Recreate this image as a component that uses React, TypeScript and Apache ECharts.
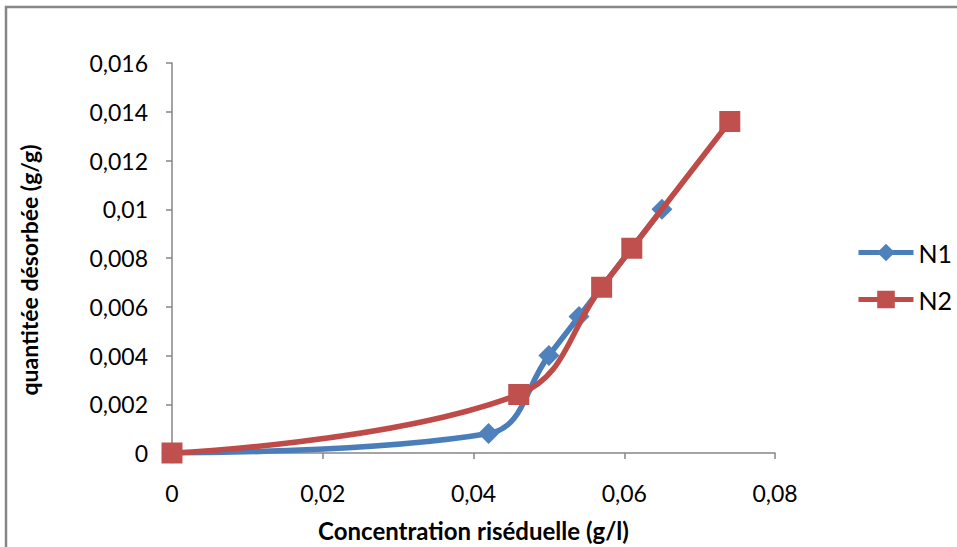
import React, { useEffect, useRef } from "react";
import * as echarts from "echarts";

const n1X = [0, 0.042, 0.05, 0.054, 0.065];
const n1Y = [0, 0.0008, 0.004, 0.0056, 0.01];
const n2X = [0, 0.046, 0.057, 0.061, 0.074];
const n2Y = [0, 0.0024, 0.0068, 0.0084, 0.0136];
const seriesNames = ["N1", "N2"];
const xTitle = "Concentration riséduelle (g/l)";
const yTitle = "quantitée désorbée (g/g)";

const fmt = (v: number) => String(parseFloat(v.toFixed(4))).replace(".", ",");

export default function App() {
  const ref = useRef<HTMLDivElement>(null);
  useEffect(() => {
    if (!ref.current) return;
    const chart = echarts.init(ref.current, null, { renderer: "svg" });
    const font = "Lato, 'Open Sans', sans-serif";
    const axisColor = "#868686";
    chart.setOption({
      animation: false,
      backgroundColor: "#fff",
      textStyle: { fontFamily: font },
      grid: { left: 172, right: 182, top: 63, bottom: 86 },
      legend: {
        orient: "vertical",
        left: 851,
        top: 235,
        itemWidth: 55,
        itemHeight: 22,
        itemGap: 22,
        lineStyle: { width: 5 },
        textStyle: { fontSize: 25, color: "#000", fontFamily: font, padding: [0, 0, 0, 0] },
        data: seriesNames,
      },
      xAxis: {
        type: "value",
        min: 0,
        max: 0.08,
        interval: 0.02,
        name: xTitle,
        nameLocation: "middle",
        nameGap: 65,
        nameTextStyle: { fontSize: 24, fontWeight: "bold", color: "#000", fontFamily: font },
        axisLine: { lineStyle: { color: axisColor, width: 1.5 } },
        axisTick: { show: true, length: 6, lineStyle: { color: axisColor, width: 1.5 } },
        axisLabel: { fontSize: 23, color: "#000", margin: 28, formatter: fmt },
        splitLine: { show: false },
      },
      yAxis: {
        type: "value",
        min: 0,
        max: 0.016,
        interval: 0.002,
        name: yTitle,
        nameLocation: "middle",
        nameGap: 132,
        nameRotate: 90,
        nameTextStyle: { fontSize: 23, fontWeight: "bold", color: "#000", fontFamily: font, padding: [0, 24, 0, 0] },
        axisLine: { show: true, lineStyle: { color: axisColor, width: 1.5 } },
        axisTick: { show: true, length: 6, lineStyle: { color: axisColor, width: 1.5 } },
        axisLabel: { fontSize: 23, color: "#000", margin: 24, formatter: fmt },
        splitLine: { show: false },
      },
      series: [
        {
          name: seriesNames[0],
          type: "line",
          smooth: 0.4,
          data: n1X.map((x, i) => [x, n1Y[i]]),
          symbol: "diamond",
          symbolSize: 21,
          lineStyle: { color: "#4A7EBB", width: 5.5 },
          itemStyle: { color: "#4F81BD" },
          z: 2,
        },
        {
          name: seriesNames[1],
          type: "line",
          smooth: 0.4,
          data: n2X.map((x, i) => [x, n2Y[i]]),
          symbol: "rect",
          symbolSize: 21,
          lineStyle: { color: "#BE4B48", width: 5.5 },
          itemStyle: { color: "#C0504D" },
          z: 3,
        },
      ],
      graphic: [
        {
          type: "rect",
          shape: { x: 6, y: 7, width: 1100, height: 700 },
          style: { fill: "none", stroke: "#868686", lineWidth: 2.5 },
          silent: true,
        },
      ],
    });
    return () => chart.dispose();
  }, []);
  return (
    <div
      ref={ref}
      style={{ position: "absolute", left: 0, top: 0, width: 957, height: 547 }}
    />
  );
}
